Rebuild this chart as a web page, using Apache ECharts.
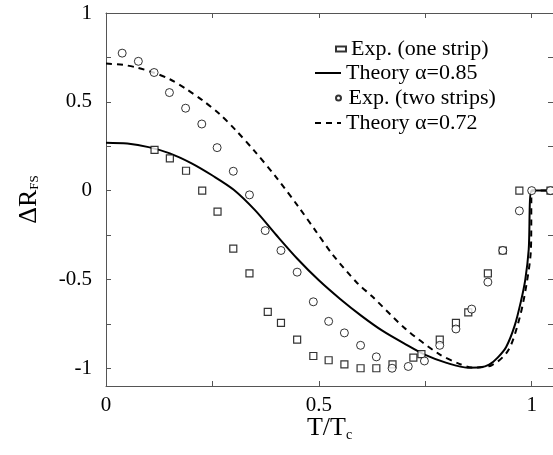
<!DOCTYPE html>
<html>
<head>
<meta charset="utf-8">
<script src="https://cdn.jsdelivr.net/npm/echarts@6/dist/echarts.min.js"></script>
<style>html,body{margin:0;padding:0;background:#fff}#c{width:553px;height:455px}</style>
</head>
<body>
<div id="c"></div>
<script>
// Exp. (one strip) — squares
const sqX = [0.114,0.150,0.188,0.226,0.262,0.299,0.337,0.380,0.411,0.449,0.487,0.523,0.560,0.598,0.635,0.673,0.722,0.741,0.784,0.822,0.851,0.897,0.932,0.971,1.044];
const sqY = [0.229,0.182,0.112,0.000,-0.118,-0.327,-0.466,-0.683,-0.745,-0.839,-0.931,-0.955,-0.978,-1.000,-1.000,-0.978,-0.940,-0.920,-0.839,-0.745,-0.685,-0.466,-0.337,0.000,0.000];
// Exp. (two strips) — circles
const ciX = [0.038,0.076,0.113,0.149,0.187,0.225,0.261,0.299,0.337,0.374,0.411,0.449,0.487,0.523,0.560,0.598,0.635,0.672,0.710,0.748,0.784,0.822,0.859,0.897,0.932,0.971,1.000,1.044];
const ciY = [0.774,0.728,0.665,0.552,0.464,0.375,0.242,0.109,-0.024,-0.225,-0.337,-0.459,-0.626,-0.736,-0.801,-0.871,-0.936,-1.000,-0.990,-0.959,-0.871,-0.779,-0.667,-0.515,-0.337,-0.114,0.000,0.000];
// Theory alpha=0.85 — solid
const t1X = [0,0.05,0.10,0.15,0.20,0.25,0.30,0.35,0.40,0.45,0.50,0.55,0.60,0.65,0.70,0.75,0.80,0.85,0.88,0.90,0.92,0.94,0.96,0.975,0.985,0.993,1.0,1.05];
const t1Y = [0.270,0.265,0.245,0.210,0.155,0.085,0.005,-0.110,-0.250,-0.385,-0.505,-0.610,-0.705,-0.790,-0.860,-0.925,-0.970,-0.997,-0.995,-0.980,-0.940,-0.880,-0.760,-0.620,-0.500,-0.330,0.000,0.000];
// Theory alpha=0.72 — dashed
const t2X = [0,0.04,0.072,0.111,0.150,0.189,0.228,0.267,0.306,0.348,0.400,0.453,0.492,0.531,0.590,0.625,0.703,0.781,0.830,0.859,0.906,0.945,0.972,0.988,0.998,1.0,1.05];
const t2Y = [0.715,0.708,0.693,0.665,0.627,0.571,0.506,0.431,0.337,0.225,0.075,-0.094,-0.225,-0.356,-0.520,-0.595,-0.777,-0.918,-0.975,-0.996,-0.983,-0.899,-0.712,-0.524,-0.337,0.000,0.000];
// Axis ticks / labels
const xLabels = [0, 0.5, 1];
const xTicks = [0, 0.25, 0.5, 0.75, 1];
const yLabels = [-1, -0.5, 0, 0.5, 1];
const yTicks = [-1, -0.75, -0.5, -0.25, 0, 0.25, 0.5, 0.75, 1];
const names = ['Exp. (one strip)', 'Theory \u03B1=0.85', 'Exp. (two strips)', 'Theory \u03B1=0.72'];

const zip = (a, b) => a.map((v, i) => [v, b[i]]);
const FONT = 'Liberation Serif';
const axisCol = '#555';

const chart = echarts.init(document.getElementById('c'), null, {renderer: 'canvas'});
const legendBase = {
  orient: 'vertical', itemGap: 0,
  textStyle: {fontFamily: FONT, fontSize: 22, color: '#000', lineHeight: 24},
  selectedMode: false
};
const lineLegend = {itemWidth: 26, itemHeight: 10, itemStyle: {opacity: 0}};
const symLegend = {itemWidth: 10, itemHeight: 5};
chart.setOption({
  animation: false,
  backgroundColor: '#fff',
  grid: {left: 106, top: 13, width: 449, height: 373},
  legend: [
    Object.assign({}, legendBase, symLegend, {data: [names[0]], left: 330, top: 32}),
    Object.assign({}, legendBase, lineLegend, {data: [names[1]], left: 309, top: 56}),
    Object.assign({}, legendBase, symLegend, {data: [names[2]], left: 330, top: 81}),
    Object.assign({}, legendBase, lineLegend, {data: [names[3]], left: 309, top: 106})
  ],
  xAxis: [{
    type: 'value', min: 0, max: 1.05, position: 'bottom',
    name: 'T/T{s|c}', nameLocation: 'middle', nameGap: 28, nameMoveOverlap: false,
    nameTextStyle: {fontFamily: FONT, fontSize: 26, color: '#000',
      rich: {s: {fontFamily: FONT, fontSize: 14, padding: [14, 0, 0, 0], color: '#000'}}},
    axisLine: {show: true, onZero: false, lineStyle: {color: axisCol, width: 1}},
    axisTick: {show: true, inside: true, length: 5, customValues: xTicks, lineStyle: {color: axisCol}},
    axisLabel: {customValues: xLabels, margin: 9, fontFamily: FONT, fontSize: 21, color: '#000',
      formatter: v => String(v)},
    splitLine: {show: false}
  }, {
    type: 'value', min: 0, max: 1.05, position: 'top',
    axisLine: {show: true, onZero: false, lineStyle: {color: axisCol, width: 1}},
    axisTick: {show: true, inside: true, length: 5, customValues: xTicks, lineStyle: {color: axisCol}},
    axisLabel: {show: false}, splitLine: {show: false}
  }],
  yAxis: [{
    type: 'value', min: -1.1, max: 1, position: 'left',
    name: '{a|\u0394R}{s|FS}', nameLocation: 'middle', nameGap: 64, nameRotate: 90,
    nameTextStyle: {fontFamily: FONT, fontSize: 26, color: '#000',
      rich: {a: {fontFamily: FONT, fontSize: 26, color: '#000'},
             s: {fontFamily: FONT, fontSize: 13, padding: [12, 0, 0, 0], color: '#000'}}},
    axisLine: {show: true, onZero: false, lineStyle: {color: axisCol, width: 1}},
    axisTick: {show: true, inside: true, length: 5, customValues: yTicks, lineStyle: {color: axisCol}},
    axisLabel: {customValues: yLabels, margin: 14, fontFamily: FONT, fontSize: 21, color: '#000',
      formatter: v => String(v)},
    splitLine: {show: false}
  }, {
    type: 'value', min: -1.1, max: 1, position: 'right',
    axisLine: {show: true, onZero: false, lineStyle: {color: axisCol, width: 1}},
    axisTick: {show: true, inside: true, length: 5, customValues: yTicks, lineStyle: {color: axisCol}},
    axisLabel: {show: false}, splitLine: {show: false}
  }],
  series: [
    {name: names[0], type: 'scatter', data: zip(sqX, sqY), symbol: 'rect', symbolSize: 7,
     itemStyle: {color: '#fff', borderColor: '#000', borderWidth: 1.2}, z: 3},
    {name: names[1], type: 'line', data: zip(t1X, t1Y), smooth: 0.3, symbol: 'none', showSymbol: false,
     lineStyle: {color: '#000', width: 2}, itemStyle: {color: '#000'}, z: 2},
    {name: names[2], type: 'scatter', data: zip(ciX, ciY), symbol: 'circle', symbolSize: 8,
     itemStyle: {color: '#fff', borderColor: '#000', borderWidth: 1}, z: 3},
    {name: names[3], type: 'line', data: zip(t2X, t2Y), smooth: 0.3, symbol: 'none', showSymbol: false,
     lineStyle: {color: '#000', width: 2, type: [6, 5]}, itemStyle: {color: '#000'}, z: 2}
  ]
});
</script>
</body>
</html>
